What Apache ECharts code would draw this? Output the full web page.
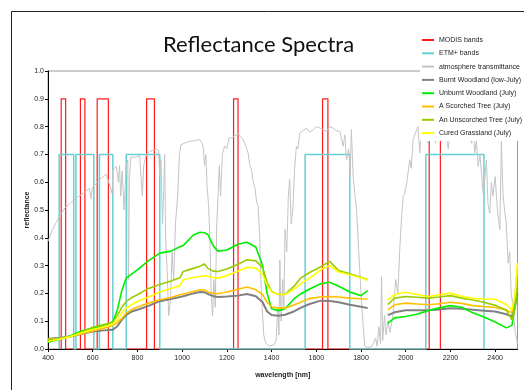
<!DOCTYPE html>
<html>
<head>
<meta charset="utf-8">
<script src="https://cdn.jsdelivr.net/npm/echarts@6/dist/echarts.min.js"></script>
<style>
  html, body { margin: 0; padding: 0; background: #fff; }
  #chart { width: 524px; height: 390px; }
</style>
</head>
<body>
<div id="chart"></div>
<script>
// wavelength grid for the measured spectra (nm), null = gap in the data
var wavelengths = [400, 450, 500, 550, 600, 650, 690, 710, 730, 750, 775, 800,
  850, 900, 950, 990, 1005, 1050, 1080, 1100, 1115, 1140, 1160,
  1200, 1250, 1290, 1330, 1360, 1380, 1400, 1430, 1460, 1500, 1530, 1570,
  1620, 1660, 1700, 1750, 1800, 1830, 1870, 1920, 1950, 2000, 2050, 2100, 2150,
  2200, 2250, 2300, 2350, 2400, 2450, 2475, 2490, 2500];

var burnt = [0.037, 0.04, 0.045, 0.055, 0.063, 0.067, 0.069, 0.082, 0.105, 0.123, 0.135, 0.141,
  0.155, 0.172, 0.18, 0.187, 0.19, 0.2, 0.205, 0.204, 0.198, 0.19, 0.187,
  0.189, 0.192, 0.198, 0.19, 0.168, 0.135, 0.122, 0.12, 0.123, 0.135, 0.148, 0.162,
  0.174, 0.173, 0.168, 0.159, 0.152, 0.147, null, 0.122, 0.132, 0.139, 0.139, 0.139, 0.142,
  0.147, 0.145, 0.141, 0.138, 0.135, 0.125, 0.117, 0.16, 0.2];
var unburnt = [0.024, 0.035, 0.048, 0.065, 0.075, 0.085, 0.098, 0.14, 0.21, 0.255, 0.27, 0.285,
  0.318, 0.345, 0.352, 0.368, 0.372, 0.41, 0.42, 0.418, 0.412, 0.37, 0.352,
  0.356, 0.377, 0.384, 0.366, 0.3, 0.2, 0.145, 0.138, 0.145, 0.18, 0.198, 0.216,
  0.235, 0.24, 0.226, 0.205, 0.192, 0.21, null, 0.092, 0.112, 0.117, 0.125, 0.138, 0.148,
  0.156, 0.15, 0.13, 0.115, 0.097, 0.076, 0.085, 0.16, 0.22];
var scorched = [0.035, 0.038, 0.045, 0.055, 0.065, 0.075, 0.085, 0.095, 0.11, 0.129, 0.142, 0.151,
  0.165, 0.177, 0.185, 0.195, 0.198, 0.207, 0.213, 0.212, 0.205, 0.2, 0.199,
  0.205, 0.215, 0.223, 0.213, 0.196, 0.168, 0.152, 0.147, 0.147, 0.158, 0.168, 0.182,
  0.187, 0.189, 0.187, 0.183, 0.181, 0.18, null, 0.141, 0.159, 0.165, 0.162, 0.159, 0.163,
  0.168, 0.164, 0.156, 0.153, 0.149, 0.14, 0.13, 0.2, 0.3];
var unscorched = [0.033, 0.038, 0.045, 0.06, 0.078, 0.088, 0.097, 0.12, 0.15, 0.171, 0.185, 0.195,
  0.218, 0.232, 0.245, 0.256, 0.279, 0.29, 0.298, 0.306, 0.29, 0.28, 0.279,
  0.288, 0.305, 0.321, 0.317, 0.292, 0.24, 0.207, 0.196, 0.197, 0.225, 0.255, 0.275,
  0.296, 0.315, 0.282, 0.271, 0.258, 0.249, null, 0.16, 0.183, 0.189, 0.186, 0.183, 0.187,
  0.192, 0.183, 0.176, 0.168, 0.157, 0.14, 0.105, 0.15, 0.25];
var grassland = [0.028, 0.035, 0.045, 0.058, 0.07, 0.08, 0.09, 0.105, 0.13, 0.147, 0.16, 0.171,
  0.187, 0.205, 0.218, 0.228, 0.249, 0.257, 0.261, 0.264, 0.262, 0.257, 0.255,
  0.264, 0.28, 0.294, 0.291, 0.268, 0.23, 0.205, 0.197, 0.196, 0.215, 0.235, 0.255,
  0.285, 0.3, 0.277, 0.267, 0.256, 0.247, null, 0.177, 0.195, 0.204, 0.196, 0.189, 0.195,
  0.201, 0.19, 0.182, 0.18, 0.179, 0.16, 0.14, 0.2, 0.31];

// atmosphere transmittance
var atmosWl = [400, 420, 450, 475, 500, 530, 560, 585, 592, 598, 630, 660, 687, 690, 706, 715, 720, 725, 732, 740,
  750, 757, 760, 764, 770, 790, 810, 818, 822, 828, 840, 855, 870, 885, 895, 900, 905, 912, 918, 922,
  926, 932, 940, 948, 955, 962, 970, 980, 988, 995, 1010, 1034, 1060, 1079, 1090, 1095, 1100, 1106, 1112, 1118,
  1124, 1130, 1136, 1142, 1148, 1155, 1161, 1166, 1172, 1180, 1190, 1200, 1210, 1220, 1232, 1240, 1250, 1262, 1273, 1285,
  1295, 1303, 1310, 1318, 1325, 1333, 1340, 1347, 1352, 1358, 1365, 1375, 1390, 1410, 1420, 1428, 1433, 1437, 1443, 1450,
  1455, 1460, 1468, 1475, 1481, 1488, 1496, 1503, 1511, 1518, 1526, 1540, 1556, 1570, 1586, 1600, 1616, 1630, 1646, 1660,
  1675, 1690, 1705, 1712, 1720, 1728, 1735, 1745, 1752, 1757, 1765, 1772, 1780, 1790, 1800, 1810, 1817, 1830, 1850, 1865,
  1872, 1880, 1887, 1892, 1897, 1905, 1912, 1920, 1930, 1944, 1955, 1965, 1974, 1982, 1989, 1996, 2005, 2018, 2025, 2033,
  2045, 2055, 2063, 2070, 2090, 2100, 2110, 2125, 2133, 2140, 2160, 2175, 2190, 2200, 2230, 2260, 2280, 2295, 2302, 2309,
  2316, 2324, 2332, 2346, 2352, 2361, 2368, 2376, 2383, 2390, 2400, 2410, 2421, 2428, 2435, 2442, 2450, 2458, 2465, 2472,
  2480, 2490, 2500];
var atmosT = [0.387, 0.43, 0.475, 0.507, 0.525, 0.545, 0.562, 0.578, 0.54, 0.58, 0.608, 0.63, 0.56, 0.645, 0.657, 0.6, 0.66, 0.55, 0.64, 0.5,
  0.66, 0.68, 0.25, 0.6, 0.69, 0.69, 0.695, 0.6, 0.55, 0.66, 0.7, 0.711, 0.715, 0.72, 0.715, 0.62, 0.68, 0.45, 0.58, 0.7,
  0.4, 0.3, 0.12, 0.18, 0.35, 0.25, 0.45, 0.55, 0.7, 0.735, 0.74, 0.747, 0.75, 0.753, 0.74, 0.72, 0.66, 0.7, 0.58, 0.52,
  0.4, 0.2, 0.12, 0.25, 0.15, 0.45, 0.56, 0.66, 0.55, 0.7, 0.73, 0.72, 0.76, 0.759, 0.765, 0.772, 0.774, 0.765, 0.753, 0.73,
  0.705, 0.66, 0.645, 0.6, 0.585, 0.53, 0.513, 0.4, 0.25, 0.15, 0.05, 0.02, 0.01, 0.015, 0.03, 0.15, 0.05, 0.32, 0.1, 0.25,
  0.15, 0.43, 0.35, 0.55, 0.61, 0.45, 0.513, 0.65, 0.729, 0.72, 0.777, 0.785, 0.795, 0.78, 0.789, 0.8, 0.795, 0.79, 0.783, 0.8,
  0.795, 0.785, 0.783, 0.76, 0.729, 0.77, 0.68, 0.72, 0.62, 0.789, 0.621, 0.56, 0.501, 0.35, 0.2, 0.08, 0.01, 0.005, 0.01, 0.04,
  0.01, 0.08, 0.02, 0.26, 0.03, 0.12, 0.05, 0.1, 0.06, 0.13, 0.25, 0.2, 0.369, 0.48, 0.549, 0.561, 0.6, 0.681, 0.65, 0.753,
  0.78, 0.8, 0.705, 0.79, 0.82, 0.74, 0.8, 0.82, 0.74, 0.8, 0.82, 0.8, 0.72, 0.8, 0.82, 0.8, 0.78, 0.74, 0.8, 0.705,
  0.75, 0.657, 0.7, 0.561, 0.6, 0.68, 0.52, 0.489, 0.6, 0.55, 0.62, 0.5, 0.43, 0.75, 0.56, 0.5, 0.45, 0.309, 0.35, 0.2,
  0.153, 0.06, 0.02];

// sensor band edges (nm)
var modisBands = [[459, 479], [545, 565], [620, 670], [841, 876], [1230, 1250], [1628, 1652], [2105, 2155]];
var etmBands = [[450, 515], [525, 605], [630, 690], [750, 900], [1550, 1750], [2090, 2350]];
var modisHeight = 0.9;
var etmHeight = 0.7;

function bandPath(bands, h) {
  var pts = [];
  for (var i = 0; i < bands.length; i++) {
    pts.push([bands[i][0], 0], [bands[i][0], h], [bands[i][1], h], [bands[i][1], 0]);
  }
  return pts;
}
function pairs(xs, ys) {
  var out = [];
  for (var i = 0; i < xs.length; i++) out.push([xs[i], ys[i]]);
  return out;
}
function lineSeries(name, data, color, width) {
  return {
    name: name, type: 'line', data: data, symbol: 'none', connectNulls: false,
    lineStyle: { color: color, width: width }, itemStyle: { color: color }
  };
}

var myChart = echarts.init(document.getElementById('chart'));
var option = {
  animation: false,
  title: {
    text: 'Reflectance Spectra',
    left: 158, top: 29,
    textStyle: { fontFamily: 'Lato', fontSize: 22, fontWeight: 'normal', color: '#111' }
  },
  graphic: [{
    type: 'rect', silent: true,
    shape: { x: 11.5, y: 11.5, width: 600, height: 500 },
    style: { fill: 'none', stroke: '#222', lineWidth: 1 }
  }],
  legend: {
    orient: 'vertical', left: 420, top: 33,
    padding: [3, 2, 4, 2], itemGap: 5.3, itemWidth: 12, itemHeight: 2,
    icon: 'rect',
    backgroundColor: '#fff', z: 10,
    textStyle: { fontFamily: 'Liberation Sans', fontSize: 7, color: '#222', lineHeight: 8 }
  },
  grid: {
    left: 48, right: 6.5, top: 71, bottom: 41,
    show: true, borderColor: '#999', borderWidth: 1, backgroundColor: 'transparent'
  },
  xAxis: {
    type: 'value', min: 400, max: 2500, interval: 200,
    name: 'wavelength [nm]', nameLocation: 'middle', nameGap: 23,
    nameTextStyle: { fontFamily: 'Liberation Sans', fontSize: 7, fontWeight: 'bold', color: '#222' },
    axisLine: { show: true, lineStyle: { color: '#000', width: 1 } },
    axisTick: { show: true, length: 3, lineStyle: { color: '#000' } },
    axisLabel: { fontFamily: 'Liberation Sans', fontSize: 7, color: '#222', margin: 6, showMaxLabel: false,
      formatter: function (v) { return String(v); } },
    splitLine: { show: false }
  },
  yAxis: {
    type: 'value', min: 0, max: 1, interval: 0.1,
    name: 'reflectance', nameLocation: 'middle', nameGap: 17, nameRotate: 90, nameMoveOverlap: false,
    nameTextStyle: { fontFamily: 'Liberation Sans', fontSize: 7, fontWeight: 'bold', color: '#222' },
    axisLine: { show: true, lineStyle: { color: '#000', width: 1 } },
    axisTick: { show: true, length: 3, lineStyle: { color: '#000' } },
    axisLabel: { fontFamily: 'Liberation Sans', fontSize: 7, color: '#222', margin: 4,
      formatter: function (v) { return v.toFixed(1); } },
    splitLine: { show: false }
  },
  series: [
    lineSeries('MODIS bands', bandPath(modisBands, modisHeight), '#ff1a1a', 1.2),
    lineSeries('ETM+ bands', bandPath(etmBands, etmHeight), '#66d0d0', 1.5),
    lineSeries('atmosphere transmittance', pairs(atmosWl, atmosT), '#c4c4c4', 1),
    lineSeries('Burnt Woodland (low-July)', pairs(wavelengths, burnt), '#808080', 2),
    lineSeries('Unburnt Woodland (July)', pairs(wavelengths, unburnt), '#00ee00', 1.6),
    lineSeries('A Scorched Tree (July)', pairs(wavelengths, scorched), '#ffc000', 1.6),
    lineSeries('An Unscorched Tree (July)', pairs(wavelengths, unscorched), '#99cc00', 1.6),
    lineSeries('Cured Grassland (July)', pairs(wavelengths, grassland), '#ffff00', 1.6)
  ]
};
myChart.setOption(option);
</script>
</body>
</html>
